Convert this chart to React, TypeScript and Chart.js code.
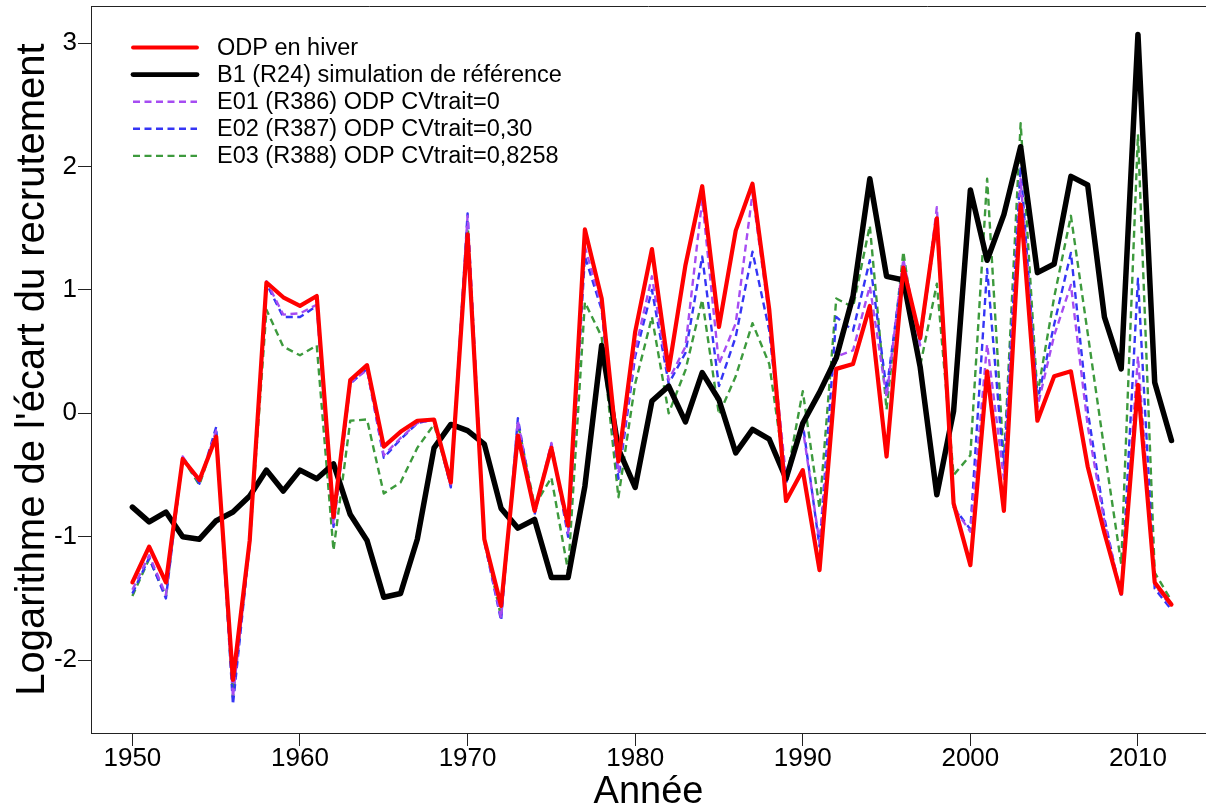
import React, { useEffect, useRef } from 'react';
import { Chart, registerables } from 'chart.js';

Chart.register(...registerables);

const FONT = "'Liberation Sans', Arial, Helvetica, sans-serif";

// Années de la série
const YEARS = [
  1950, 1951, 1952, 1953, 1954, 1955, 1956, 1957, 1958, 1959,
  1960, 1961, 1962, 1963, 1964, 1965, 1966, 1967, 1968, 1969,
  1970, 1971, 1972, 1973, 1974, 1975, 1976, 1977, 1978, 1979,
  1980, 1981, 1982, 1983, 1984, 1985, 1986, 1987, 1988, 1989,
  1990, 1991, 1992, 1993, 1994, 1995, 1996, 1997, 1998, 1999,
  2000, 2001, 2002, 2003, 2004, 2005, 2006, 2007, 2008, 2009,
  2010, 2011, 2012,
];

// ODP en hiver
const ODP_HIVER = [
  -1.37, -1.08, -1.37, -0.37, -0.54, -0.19, -2.16, -1.03, 1.06, 0.94,
  0.87, 0.95, -0.84, 0.27, 0.39, -0.27, -0.15, -0.06, -0.05, -0.56,
  1.45, -1.02, -1.56, -0.18, -0.79, -0.28, -0.91, 1.49, 0.93, -0.39,
  0.66, 1.33, 0.35, 1.20, 1.84, 0.70, 1.48, 1.86, 0.84, -0.71,
  -0.46, -1.27, 0.36, 0.40, 0.87, -0.35, 1.18, 0.61, 1.58, -0.73,
  -1.23, 0.34, -0.79, 1.69, -0.06, 0.30, 0.34, -0.43, -0.97, -1.46,
  0.23, -1.37, -1.55,
];

// B1 (R24) simulation de référence
const B1_REF = [
  -0.76, -0.88, -0.80, -1.00, -1.02, -0.87, -0.80, -0.67, -0.46, -0.63,
  -0.46, -0.53, -0.41, -0.82, -1.03, -1.49, -1.46, -1.02, -0.28, -0.09,
  -0.14, -0.25, -0.77, -0.93, -0.86, -1.33, -1.33, -0.59, 0.55, -0.29,
  -0.60, 0.10, 0.22, -0.07, 0.33, 0.11, -0.32, -0.13, -0.21, -0.53,
  -0.08, 0.17, 0.45, 0.95, 1.90, 1.11, 1.08, 0.38, -0.66, 0.02,
  1.81, 1.24, 1.61, 2.16, 1.14, 1.21, 1.92, 1.85, 0.78, 0.36,
  3.07, 0.25, -0.22,
];

// E01 (R386) ODP CVtrait=0
const E01 = [
  -1.43, -1.15, -1.47, -0.35, -0.56, -0.14, -2.30, -1.05, 1.07, 0.80,
  0.81, 0.88, -0.90, 0.25, 0.35, -0.34, -0.20, -0.08, -0.05, -0.59,
  1.60, -1.03, -1.66, -0.06, -0.80, -0.24, -0.97, 1.35, 0.87, -0.48,
  0.51, 1.11, 0.27, 0.54, 1.73, 0.40, 0.73, 1.78, 0.78, -0.51,
  -0.12, -1.05, 0.46, 0.51, 1.03, 0.13, 1.25, 0.55, 1.67, -0.76,
  -0.96, 0.56, -0.53, 1.90, 0.05, 0.63, 1.04, -0.10, -0.88, -1.47,
  0.46, -1.39, -1.57,
];

// E02 (R387) ODP CVtrait=0,30
const E02 = [
  -1.46, -1.17, -1.50, -0.35, -0.57, -0.11, -2.36, -1.06, 1.05, 0.78,
  0.78, 0.87, -0.92, 0.24, 0.36, -0.36, -0.21, -0.08, -0.05, -0.60,
  1.62, -1.04, -1.68, -0.04, -0.82, -0.25, -1.00, 1.27, 0.84, -0.53,
  0.46, 1.00, 0.24, 0.49, 1.27, 0.22, 0.62, 1.31, 0.67, -0.57,
  -0.08, -1.08, 0.78, 0.67, 1.24, 0.19, 1.21, 0.58, 1.55, -0.76,
  -0.94, 1.17, -0.45, 2.00, 0.10, 0.72, 1.30, 0.02, -0.85, -1.49,
  1.09, -1.42, -1.59,
];

// E03 (R388) ODP CVtrait=0,8258
const E03 = [
  -1.48, -1.18, -1.48, -0.37, -0.58, -0.17, -2.30, -1.05, 0.84, 0.54,
  0.47, 0.55, -1.11, -0.06, -0.05, -0.65, -0.56, -0.28, -0.09, -0.58,
  1.55, -1.03, -1.65, -0.08, -0.75, -0.52, -1.28, 0.90, 0.62, -0.68,
  0.24, 0.78, 0.00, 0.35, 0.92, -0.01, 0.30, 0.73, 0.40, -0.55,
  0.18, -0.77, 0.93, 0.86, 1.52, 0.03, 1.31, 0.38, 1.05, -0.50,
  -0.34, 1.90, -0.40, 2.35, 0.15, 0.94, 1.60, 0.65, -0.30, -1.22,
  2.26, -1.29, -1.52,
];

const X_TICKS = [1950, 1960, 1970, 1980, 1990, 2000, 2010];
const Y_TICKS = [-2, -1, 0, 1, 2, 3];

const SERIES_LABELS = [
  'ODP en hiver',
  'B1 (R24) simulation de référence',
  'E01 (R386) ODP CVtrait=0',
  'E02 (R387) ODP CVtrait=0,30',
  'E03 (R388) ODP CVtrait=0,8258',
];

const toPoints = (values: number[]) => YEARS.map((year, i) => ({ x: year, y: values[i] }));

// Cadre supérieur + légende dessinée en haut à gauche de la zone de tracé
const frameAndLegend = {
  id: 'frameAndLegend',
  afterDraw(chart: any) {
    const { ctx, chartArea } = chart;
    ctx.save();
    ctx.strokeStyle = '#222';
    ctx.lineWidth = 1;
    ctx.beginPath();
    ctx.moveTo(chartArea.left, chartArea.top + 0.5);
    ctx.lineTo(chartArea.right, chartArea.top + 0.5);
    ctx.stroke();

    const x0 = 133;
    const x1 = 197;
    const xText = 217;
    const y0 = 47.5;
    const step = 27.1;
    chart.data.datasets.forEach((ds: any, i: number) => {
      const y = y0 + i * step;
      ctx.beginPath();
      ctx.strokeStyle = ds.borderColor;
      ctx.lineWidth = ds.legendWidth;
      ctx.setLineDash(ds.borderDash || []);
      ctx.lineCap = ds.borderDash ? 'butt' : 'round';
      ctx.moveTo(x0, y);
      ctx.lineTo(x1, y);
      ctx.stroke();
      ctx.setLineDash([]);
      ctx.fillStyle = '#000';
      ctx.font = `23.5px ${FONT}`;
      ctx.textBaseline = 'middle';
      ctx.textAlign = 'left';
      ctx.fillText(ds.label, xText, y + 1);
    });
    ctx.restore();
  },
};

export default function App() {
  const canvasRef = useRef<HTMLCanvasElement | null>(null);

  useEffect(() => {
    const canvas = canvasRef.current;
    if (!canvas) return;

    const solid = (label: string, values: number[], color: string, width: number, legendWidth: number) => ({
      label,
      data: toPoints(values),
      borderColor: color,
      borderWidth: width,
      legendWidth,
      borderJoinStyle: 'round',
      borderCapStyle: 'round',
      pointRadius: 0,
      tension: 0,
      fill: false,
    });
    const dashed = (label: string, values: number[], color: string) => ({
      label,
      data: toPoints(values),
      borderColor: color,
      borderWidth: 2.4,
      legendWidth: 2.4,
      borderDash: [7, 4.5],
      borderJoinStyle: 'round',
      borderCapStyle: 'butt',
      pointRadius: 0,
      tension: 0,
      fill: false,
    });

    const chart = new Chart(canvas, {
      type: 'line',
      data: {
        datasets: [
          solid(SERIES_LABELS[0], ODP_HIVER, '#ff0000', 4.2, 3.8),
          solid(SERIES_LABELS[1], B1_REF, '#000000', 5.5, 4.8),
          dashed(SERIES_LABELS[2], E01, '#a64cf2'),
          dashed(SERIES_LABELS[3], E02, '#3535f5'),
          dashed(SERIES_LABELS[4], E03, '#3d9a3d'),
        ] as any,
      },
      options: {
        responsive: false,
        animation: false,
        devicePixelRatio: 1,
        layout: { padding: { top: 6, left: 0, right: 0, bottom: 0 } },
        plugins: {
          legend: { display: false },
          tooltip: { enabled: false },
        },
        scales: {
          x: {
            type: 'linear',
            min: 1947.53,
            max: 2014.06,
            afterBuildTicks: (scale: any) => {
              scale.ticks = X_TICKS.map((v) => ({ value: v }));
            },
            afterFit: (scale: any) => {
              scale.height = 78;
              scale.paddingLeft = 0;
              scale.paddingRight = 0;
            },
            grid: {
              drawOnChartArea: false,
              drawTicks: true,
              tickLength: 13,
              color: '#222',
              lineWidth: 1,
            },
            border: { display: true, color: '#222', width: 1 },
            ticks: {
              autoSkip: false,
              maxRotation: 0,
              padding: 0,
              color: '#000',
              font: { family: FONT, size: 26, lineHeight: 1 },
              callback: (v: any) => String(v),
            },
            title: {
              display: true,
              text: 'Année',
              color: '#000',
              font: { family: FONT, size: 38, lineHeight: 1 },
              padding: { top: 0, bottom: -1 },
            },
          },
          y: {
            type: 'linear',
            min: -2.59,
            max: 3.3,
            afterBuildTicks: (scale: any) => {
              scale.ticks = Y_TICKS.map((v) => ({ value: v }));
            },
            afterFit: (scale: any) => {
              scale.width = 91;
              scale.paddingTop = 0;
              scale.paddingBottom = 0;
            },
            grid: {
              drawOnChartArea: false,
              drawTicks: true,
              tickLength: 13,
              color: '#222',
              lineWidth: 1,
            },
            border: { display: true, color: '#222', width: 1 },
            ticks: {
              autoSkip: false,
              padding: 1,
              color: '#000',
              font: { family: FONT, size: 26, lineHeight: 1 },
              callback: (v: any) => String(v),
            },
            title: {
              display: true,
              text: "Logarithme de l'écart du recrutement",
              color: '#000',
              font: { family: FONT, size: 40, lineHeight: 1 },
              padding: { top: 13, bottom: 0 },
            },
          },
        },
      } as any,
      plugins: [frameAndLegend],
    });

    return () => chart.destroy();
  }, []);

  return (
    <canvas
      ref={canvasRef}
      width={1206}
      height={811}
      style={{ position: 'fixed', left: 0, top: 0, width: 1206, height: 811, background: '#fff' }}
    />
  );
}
